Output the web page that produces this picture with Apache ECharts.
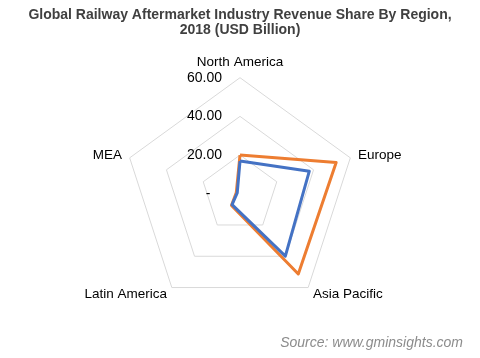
<!DOCTYPE html>
<html>
<head>
<meta charset="utf-8">
<script src="https://cdn.jsdelivr.net/npm/echarts@6/dist/echarts.min.js"></script>
<style>
html,body{margin:0;padding:0;background:#fff;}
#chart{width:480px;height:358px;}
</style>
</head>
<body>
<div id="chart"></div>
<script>
// Regions in clockwise order starting at the top
const regions = ['North America', 'Europe', 'Asia Pacific', 'Latin America', 'MEA'];
const seriesNames = ['2025', '2018'];
const orangeValues = [20, 52.3, 51.3, 7.5, 2];
const blueValues = [16.9, 37.7, 39.9, 7, 1.5];
const tickLabels = ['-', '20.00', '40.00', '60.00'];
const axisMax = 60;

// ECharts radar runs counter-clockwise, so reorder: first stays at top, rest reversed
const order = [0].concat(regions.map((_, i) => i).slice(1).reverse());
const reorder = arr => order.map(i => arr[i]);

const chart = echarts.init(document.getElementById('chart'), null, {renderer: 'canvas'});
const font = 'Liberation Sans, Arial, sans-serif';
const indicator = reorder(regions).map((r, i) => {
  const ind = {name: r, max: axisMax, min: 0};
  if (i !== 0) ind.axisLabel = {show: false};
  return ind;
});
chart.setOption({
  animation: false,
  title: [{
    text: 'Global Railway Aftermarket Industry Revenue Share By Region,\n2018 (USD Billion)',
    left: 'center', top: 3,
    textStyle: {fontFamily: font, fontSize: 14, fontWeight: 'bold', color: '#404040', lineHeight: 15}
  }, {
    text: 'Source: www.gminsights.com',
    right: 12, top: 331,
    textStyle: {fontFamily: font, fontSize: 14, fontStyle: 'italic', fontWeight: 'normal', color: '#8c8c8c'}
  }],
  radar: {
    center: [240, 193.7],
    radius: 116,
    startAngle: 90,
    splitNumber: 3,
    shape: 'polygon',
    nameGap: 8,
    axisName: {color: '#000', fontFamily: font, fontSize: 13.5},
    axisLine: {show: false},
    axisTick: {show: false},
    splitArea: {show: false},
    splitLine: {lineStyle: {color: '#d9d9d9', width: 1}},
    axisLabel: {
      show: true, color: '#000', fontFamily: font, fontSize: 14, margin: 18,
      formatter: function (v) { return tickLabels[Math.round(v / 20)] + (v === 0 ? '   ' : ''); }
    },
    indicator: indicator
  },
  series: [{
    type: 'radar',
    symbol: 'none',
    data: [
      {name: seriesNames[0], value: reorder(orangeValues), lineStyle: {color: '#ED7D31', width: 3}, itemStyle: {color: '#ED7D31'}},
      {name: seriesNames[1], value: reorder(blueValues), lineStyle: {color: '#4472C4', width: 3}, itemStyle: {color: '#4472C4'}}
    ]
  }]
});
</script>
</body>
</html>
